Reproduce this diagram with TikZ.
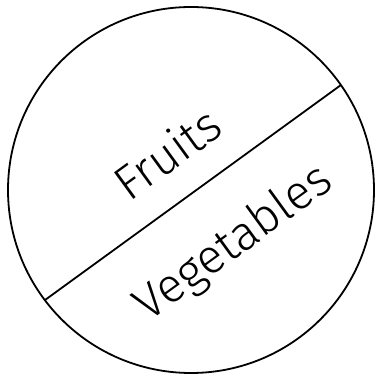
\documentclass[tikz,border=0pt]{standalone}
\usepackage{fontspec}
\setmainfont{Fira Sans Light}
\usetikzlibrary{positioning}

\begin{document}
\begin{tikzpicture}[x=1pt,y=1pt]
\tikzset{label text/.style={font=\fontsize{48}{48}\selectfont, rotate=36, inner sep=0pt}}
\useasboundingbox (0,0) rectangle (375,379);
\node[circle, draw, line width=1.8pt, minimum size=366pt, inner sep=0pt, outer sep=0pt] (plate) at (191,189) {};
\draw[line width=1.8pt] (plate.217) -- (plate.35);
\node[label text] (fruits) at (167,226) {Fruits};
\node[label text] (veg) at (234,135) {Vegetables};
\end{tikzpicture}
\end{document}
